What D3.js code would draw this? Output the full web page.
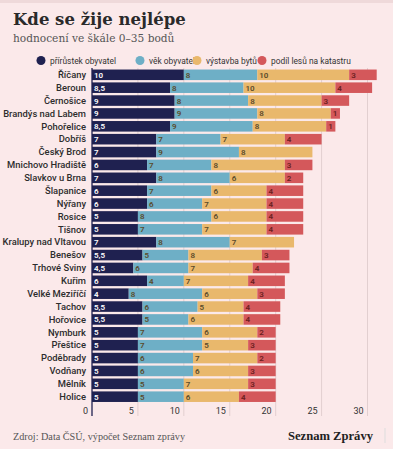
<!DOCTYPE html>
<html><head><meta charset="utf-8">
<script src="https://cdn.jsdelivr.net/npm/d3@7"></script>
<style>
html,body{margin:0;padding:0;background:#fbe9ea;}
svg{display:block;}
</style></head>
<body>
<script>
const cities = ["Říčany","Beroun","Černošice","Brandýs nad Labem","Pohořelice","Dobříš","Český Brod","Mnichovo Hradiště","Slavkov u Brna","Šlapanice","Nýřany","Rosice","Tišnov","Kralupy nad Vltavou","Benešov","Trhové Sviny","Kuřim","Velké Meziříčí","Tachov","Hořovice","Nymburk","Přeštice","Poděbrady","Vodňany","Mělník","Holice"];
const seriesNames = ["přírůstek obyvatel","věk obyvatel","výstavba bytů","podíl lesů na katastru"];
const prirustek = [10,8.5,9,9,8.5,7,7,6,7,6,6,5,5,7,5.5,4.5,6,4,5.5,5.5,5,5,5,5,5,5];
const vek       = [8,8,8,9,9,7,9,7,8,7,6,8,7,8,5,6,4,8,6,5,7,7,6,6,5,5];
const vystavba  = [10,10,8,8,8,7,8,8,6,6,7,6,7,7,8,7,7,6,5,6,6,5,7,6,7,6];
const lesy      = [3,4,3,1,1,4,0,3,2,4,4,4,4,0,3,4,4,3,4,4,2,3,2,3,3,4];
const ticks = [0,5,10,15,20,25,30];
const colors = ["#1f2150","#6eafc6","#e9b86c","#d4585b"];

const W=393,H=449;
const svg=d3.select("body").append("svg").attr("width",W).attr("height",H);
svg.append("rect").attr("width",W).attr("height",H).attr("fill","#fbe9ea");
svg.append("rect").attr("width",W).attr("height",3).attr("fill","#efd9da");

svg.append("text").attr("x",13).attr("y",25).text("Kde se žije nejlépe")
  .attr("font-family","DejaVu Serif").attr("font-weight","bold").attr("font-size",16.5).attr("fill","#2a2a2a");
svg.append("text").attr("x",13).attr("y",42).text("hodnocení ve škále 0–35 bodů")
  .attr("font-family","DejaVu Serif").attr("font-size",10.6).attr("fill","#555");

// legend
const legX=[41,140,197,262];
const leg=svg.append("g");
seriesNames.forEach((n,i)=>{
  leg.append("circle").attr("cx",legX[i]).attr("cy",60.5).attr("r",4.5).attr("fill",colors[i]);
  leg.append("text").attr("x",legX[i]+9).attr("y",63.5).text(n)
    .attr("font-family","Roboto").attr("font-size",8.4).attr("fill","#333");
});

const x=d3.scaleLinear().domain([0,31]).range([92,376.7]);
const y=d3.scaleBand().domain(cities).range([68.5,403]).paddingInner(0.18).paddingOuter(0.08);

// grid
const g=svg.append("g");
ticks.filter(t=>t>0).forEach(t=>{
  g.append("line").attr("x1",x(t)).attr("x2",x(t)).attr("y1",68).attr("y2",416)
   .attr("stroke","#e2cfd0").attr("stroke-width",1);
});
g.append("line").attr("x1",x(0)).attr("x2",x(0)).attr("y1",68).attr("y2",416).attr("stroke","#1f2150").attr("stroke-width",1.3);

const data=cities.map((c,i)=>({c,v:[prirustek[i],vek[i],vystavba[i],lesy[i]]}));
const rows=svg.append("g").selectAll("g").data(data).join("g");
rows.each(function(d){
  let acc=0;
  const r=d3.select(this);
  d.v.forEach((v,k)=>{
    if(v>0){
      r.append("rect").attr("x",x(acc)).attr("y",y(d.c)).attr("width",x(acc+v)-x(acc)).attr("height",y.bandwidth()).attr("fill",colors[k]);
      r.append("text").attr("x",x(acc)+2).attr("y",y(d.c)+y.bandwidth()/2+3)
        .text(String(v).replace(".",","))
        .attr("font-family","Roboto").attr("font-size",8).attr("font-weight","600")
        .attr("fill",k===0?"#fff":(k===3?"#6a2020":"#5a4a2a"));
    }
    acc+=v;
  });
  r.append("text").attr("x",86).attr("y",y(d.c)+y.bandwidth()/2+3.3).attr("text-anchor","end")
    .text(d.c).attr("font-family","Roboto").attr("font-weight","500").attr("font-size",9.4).attr("fill","#2d2d2d");
});

// axis labels
ticks.forEach(t=>{
  svg.append("text").attr("x",x(t)-4).attr("y",414).attr("text-anchor","end").text(t)
   .attr("font-family","Roboto").attr("font-size",9).attr("fill","#333");
});

svg.append("text").attr("x",13).attr("y",440).text("Zdroj: Data ČSÚ, výpočet Seznam zprávy")
  .attr("font-family","Liberation Serif").attr("font-size",10.2).attr("fill","#555");
svg.append("text").attr("x",373).attr("y",440).attr("text-anchor","end").text("Seznam Zprávy")
  .attr("font-family","Liberation Serif").attr("font-weight","bold").attr("font-size",12.6).attr("fill","#222");
svg.append("line").attr("x1",385).attr("x2",385).attr("y1",428).attr("y2",443).attr("stroke","#ddd");
</script>
</body></html>
